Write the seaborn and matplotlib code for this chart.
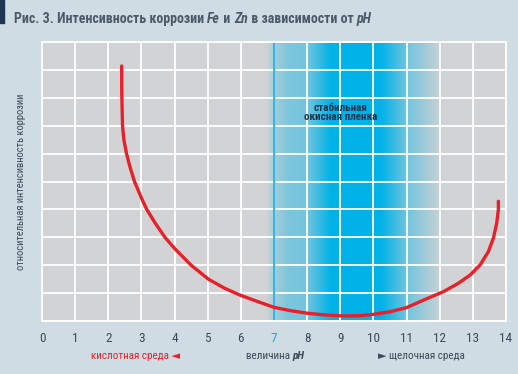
import numpy as np
import pandas as pd
import matplotlib
matplotlib.use("Agg")
import matplotlib.pyplot as plt
import seaborn as sns
from matplotlib.colors import LinearSegmentedColormap
from matplotlib.patches import Rectangle

# ---- data ----
ph = [2.405, 2.405, 2.41, 2.43, 2.47, 2.55, 2.66, 2.79, 3.00, 3.16, 3.42, 3.71, 4.00, 4.50,
      5.02, 5.50, 5.97, 6.50, 7.00, 7.50, 8.00, 8.50, 9.10, 9.60, 10.00, 10.50, 11.00,
      11.61, 12.11, 12.56, 12.92, 13.22, 13.47, 13.62, 13.72, 13.77, 13.77]
intensity = [9.14, 8.50, 8.00, 7.00, 6.50, 6.00, 5.50, 5.00, 4.41, 4.00, 3.50, 3.00, 2.60, 2.00,
             1.50, 1.18, 0.93, 0.70, 0.49, 0.37, 0.28, 0.22, 0.18, 0.19, 0.24, 0.33, 0.48,
             0.80, 1.05, 1.35, 1.65, 2.01, 2.49, 2.97, 3.51, 3.99, 4.29]
x_ticks = list(range(0, 15))
y_grid = list(range(0, 11))
band_pos = [6.75, 7.0, 7.4, 8.0, 8.7, 10.2, 11.0, 12.1]
band_alpha = [0.0, 0.20, 0.40, 0.45, 1.0, 1.0, 0.45, 0.0]

df = pd.DataFrame({"pH": ph, "I": intensity})

FIG_BG = "#cfdce3"
AX_BG = "#d1d3d4"
BLUE = "#00b2e8"
RED = "#e8202a"
DARK = "#3d4a57"
FONTS = ["Roboto Condensed", "DejaVu Sans"]

sns.set_theme(style="white")
plt.rcParams["font.family"] = FONTS

fig = plt.figure(figsize=(5.18, 3.74), dpi=100, facecolor=FIG_BG)
ax = fig.add_axes([42 / 518, 53 / 374, 464 / 518, 279 / 374])
ax.set_facecolor(AX_BG)
ax.set_xlim(0, 14)
ax.set_ylim(0, 10)

grad_x = np.linspace(band_pos[0], band_pos[-1], 400)
grad_a = np.interp(grad_x, band_pos, band_alpha)
cmap = LinearSegmentedColormap.from_list("band", [AX_BG, BLUE])
ax.imshow(grad_a[np.newaxis, :], cmap=cmap, vmin=0, vmax=1, aspect="auto",
          extent=[band_pos[0], band_pos[-1], 0, 10], zorder=0.2, interpolation="bilinear")

ax.set_axisbelow(True)
ax.set_xticks(x_ticks)
ax.set_yticks(y_grid)
ax.grid(True, color="white", linewidth=1.3)
ax.set_yticklabels([])
ax.tick_params(axis="both", length=0)
ax.tick_params(axis="x", pad=8, labelsize=9.5, labelcolor=DARK)
for lbl in ax.get_xticklabels():
    if lbl.get_text() == "7":
        lbl.set_color(BLUE)
for s in ax.spines.values():
    s.set_color("white")
    s.set_linewidth(1.3)

ax.axvline(7, color="#00aeef", linewidth=1.2, zorder=1)

sns.lineplot(data=df, x="pH", y="I", sort=False, estimator=None, color=RED,
             linewidth=2.4, ax=ax, zorder=3)
ax.set_xlabel("")
ax.set_ylabel("относительная интенсивность коррозии", fontsize=7.6, color=DARK, va="center")
ax.yaxis.set_label_coords(-20.5 / 464, 0.5)

ax.text(9.0, 7.47, "стабильная\nокисная пленка", ha="center", va="center",
        fontsize=8, color="#1e3550", fontweight="bold", linespacing=0.95)

fig.patches.append(Rectangle((0, 1 - 23 / 374), 4 / 518, 23 / 374, transform=fig.transFigure,
                             color="#1c3550", zorder=5))
renderer = fig.canvas.get_renderer()
parts = [("Рис. 3. Интенсивность коррозии ", "normal"), ("Fe", "italic"), (" и ", "normal"),
         ("Zn", "italic"), (" в зависимости от ", "normal"), ("pH", "italic")]
x0 = 14 / 518
for txt, style in parts:
    t = fig.text(x0, 1 - 23 / 374, txt, fontsize=10, fontweight="bold", style=style,
                 color="#4a5a68", va="baseline", ha="left")
    bb = t.get_window_extent(renderer=renderer)
    x0 += bb.width / fig.bbox.width

yb = 1 - 359 / 374
LS = 8.0
fig.text(180 / 518, yb, "кислотная среда ◄", color=RED, fontsize=LS, ha="right", va="baseline")
x1 = 246 / 518
t = fig.text(x1, yb, "величина ", color=DARK, fontsize=LS, ha="left", va="baseline")
bb = t.get_window_extent(renderer=renderer)
fig.text(x1 + bb.width / fig.bbox.width, yb, "pH", color=DARK, fontsize=LS, ha="left",
         va="baseline", style="italic", fontweight="bold")
fig.text(378 / 518, yb, "► щелочная среда", color=DARK, fontsize=LS, ha="left", va="baseline")

fig.savefig("out.png", dpi=100, facecolor=FIG_BG)
